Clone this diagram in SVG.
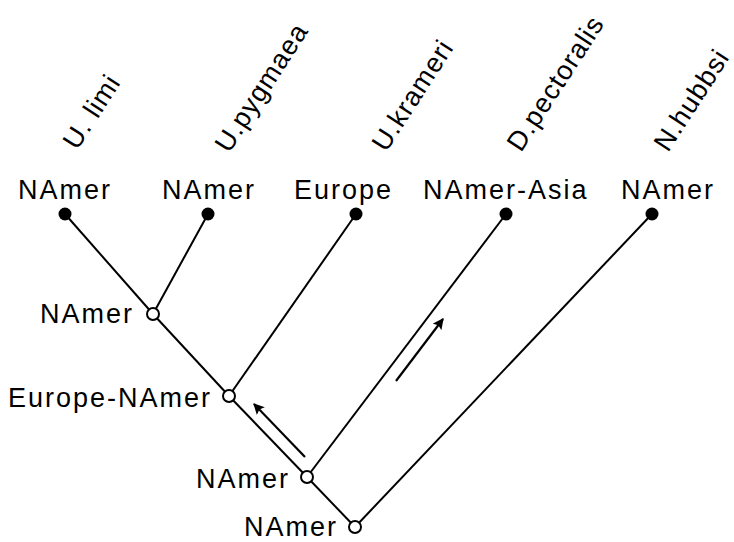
<svg xmlns="http://www.w3.org/2000/svg" width="734" height="542" viewBox="0 0 734 542">
<style>
text{font-family:"Liberation Sans",Arial,sans-serif;font-size:27px;letter-spacing:2px;fill:#000}
.rot{letter-spacing:1px}
.br{stroke:#000;stroke-width:2;fill:none}
.leaf{fill:#000}
.int{fill:#fff;stroke:#000;stroke-width:2}
.ar{stroke:#000;stroke-width:2.2;fill:none}
</style>
<defs>
<marker id="ah" viewBox="0 0 10 10" refX="9" refY="5" markerWidth="5" markerHeight="5" orient="auto" markerUnits="strokeWidth">
<path d="M0,0 L10,5 L0,10 L2,5 Z" fill="#000"/>
</marker>
</defs>
<rect width="734" height="542" fill="#fff"/>
<g id="connectors">
<line class="br" x1="65" y1="214" x2="153" y2="314"/>
<line class="br" x1="208" y1="214" x2="153" y2="314"/>
<line class="br" x1="356" y1="214" x2="229" y2="396"/>
<line class="br" x1="506" y1="214" x2="307" y2="477"/>
<line class="br" x1="652" y1="214" x2="355" y2="527"/>
<line class="br" x1="153" y1="314" x2="229" y2="396"/>
<line class="br" x1="229" y1="396" x2="307" y2="477"/>
<line class="br" x1="307" y1="477" x2="355" y2="527"/>
<line class="ar" x1="305" y1="457" x2="254" y2="404" marker-end="url(#ah)"/>
<line class="ar" x1="396" y1="381" x2="443" y2="319" marker-end="url(#ah)"/>
</g>
<g id="leaf-ulimi">
<circle class="leaf" cx="65" cy="214" r="6.5"/>
<text x="18" y="199">NAmer</text>
<text transform="translate(77,151) rotate(-57)" class="rot">U. limi</text>
</g>
<g id="leaf-upygmaea">
<circle class="leaf" cx="208" cy="214" r="6.5"/>
<text x="162" y="199">NAmer</text>
<text transform="translate(229,154) rotate(-57)" class="rot">U.pygmaea</text>
</g>
<g id="leaf-ukrameri">
<circle class="leaf" cx="356" cy="214" r="6.5"/>
<text x="294" y="199">Europe</text>
<text transform="translate(386,153) rotate(-57)" class="rot">U.krameri</text>
</g>
<g id="leaf-dpectoralis">
<circle class="leaf" cx="506" cy="214" r="6.5"/>
<text x="423" y="199">NAmer-Asia</text>
<text transform="translate(521,153) rotate(-57)" class="rot">D.pectoralis</text>
</g>
<g id="leaf-nhubbsi">
<circle class="leaf" cx="652" cy="214" r="6.5"/>
<text x="621" y="199">NAmer</text>
<text transform="translate(668,153) rotate(-57)" class="rot">N.hubbsi</text>
</g>
<g id="node-a">
<circle class="int" cx="153" cy="314" r="6"/>
<text x="40" y="323">NAmer</text>
</g>
<g id="node-b">
<circle class="int" cx="229" cy="396" r="6"/>
<text x="8" y="407">Europe-NAmer</text>
</g>
<g id="node-c">
<circle class="int" cx="307" cy="477" r="6"/>
<text x="196" y="488">NAmer</text>
</g>
<g id="node-root">
<circle class="int" cx="355" cy="527" r="6"/>
<text x="244" y="536">NAmer</text>
</g>
</svg>
